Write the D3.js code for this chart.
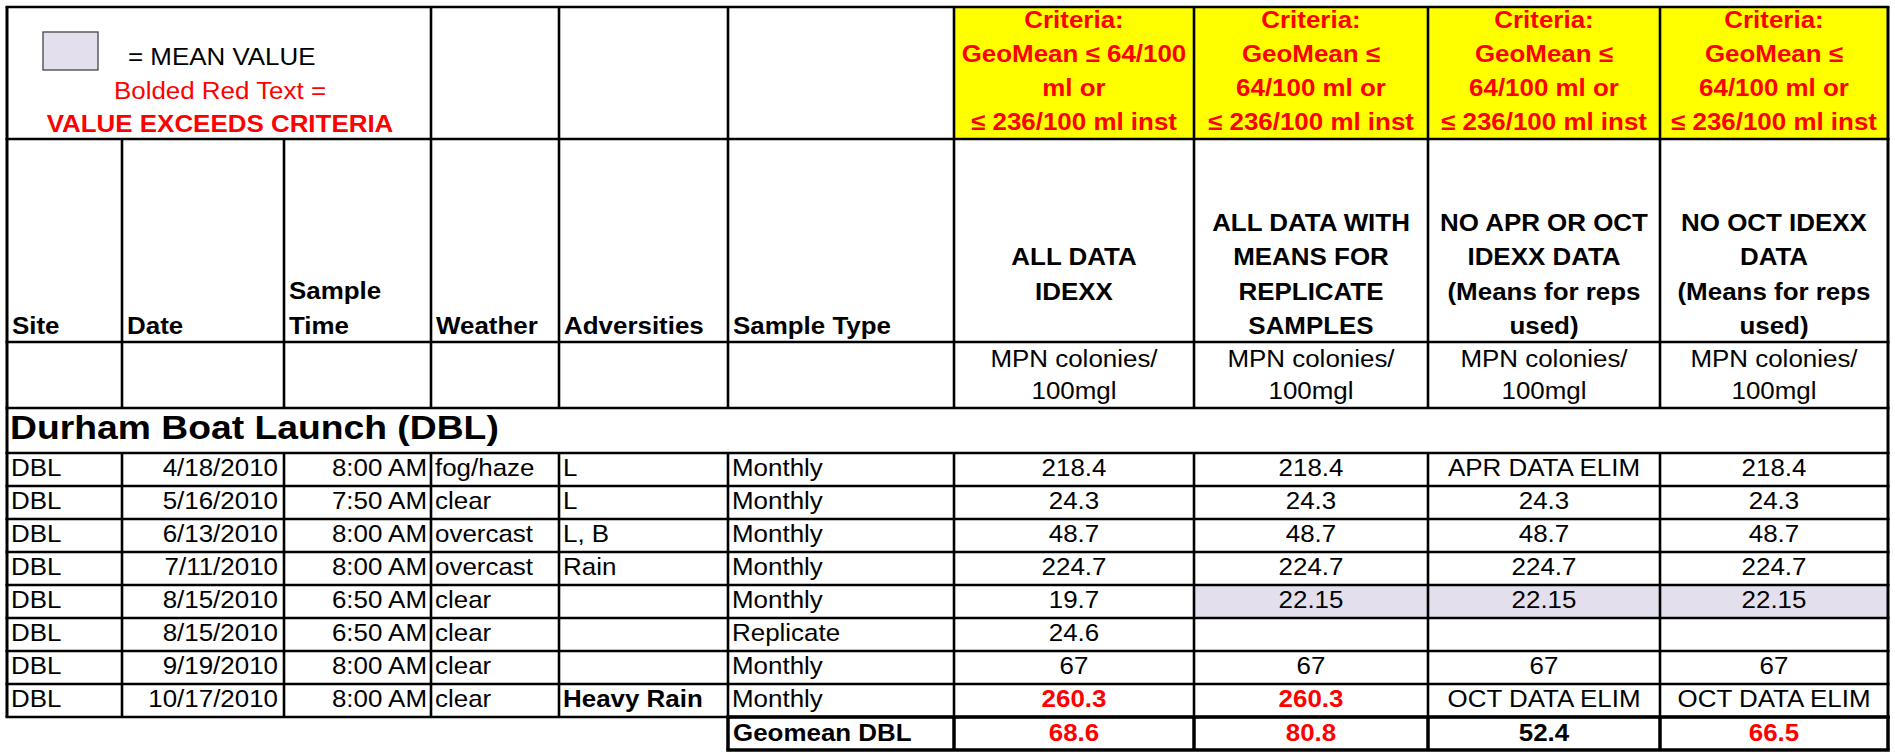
<!DOCTYPE html>
<html><head><meta charset="utf-8">
<script src="https://cdn.jsdelivr.net/npm/d3@7"></script>
<style>
body{margin:0;background:#fff;overflow:hidden}
svg{display:block}
text{font-family:"Liberation Sans",Arial,Helvetica,sans-serif}
</style>
</head><body>
<svg id="c" width="1895" height="753"></svg>
<script>
// ---------------- DATA ----------------
const sites = ["DBL","DBL","DBL","DBL","DBL","DBL","DBL","DBL"];
const dates = ["4/18/2010","5/16/2010","6/13/2010","7/11/2010","8/15/2010","8/15/2010","9/19/2010","10/17/2010"];
const times = ["8:00 AM","7:50 AM","8:00 AM","8:00 AM","6:50 AM","6:50 AM","8:00 AM","8:00 AM"];
const weather = ["fog/haze","clear","overcast","overcast","clear","clear","clear","clear"];
const adversities = ["L","L","L, B","Rain","","","","Heavy Rain"];
const boldAdversities = ["Heavy Rain"];
const sampleTypes = ["Monthly","Monthly","Monthly","Monthly","Monthly","Replicate","Monthly","Monthly"];
const allDataIdexx = [218.4,24.3,48.7,224.7,19.7,24.6,67,260.3];
const allDataMeans = [218.4,24.3,48.7,224.7,22.15,null,67,260.3];
const noAprOctData = ["APR DATA ELIM",24.3,48.7,224.7,22.15,null,67,"OCT DATA ELIM"];
const noOctData = [218.4,24.3,48.7,224.7,22.15,null,67,"OCT DATA ELIM"];
const meanRowFlags = [false,false,false,false,true,false,false,false];
const geomeanLabel = "Geomean DBL";
const geomeans = [68.6,80.8,52.4,66.5];
const geoMeanLimit = 64;
const instantLimit = 236;
const siteTitle = "Durham Boat Launch (DBL)";
const leftHeaders = [["Site"],["Date"],["Sample","Time"],["Weather"],["Adversities"],["Sample Type"]];
const valueHeaders = [["ALL DATA","IDEXX"],["ALL DATA WITH","MEANS FOR","REPLICATE","SAMPLES"],["NO APR OR OCT","IDEXX DATA","(Means for reps","used)"],["NO OCT IDEXX","DATA","(Means for reps","used)"]];
const criteriaLines = [["Criteria:","GeoMean ≤ 64/100","ml or","≤ 236/100 ml inst"],["Criteria:","GeoMean ≤","64/100 ml or","≤ 236/100 ml inst"],["Criteria:","GeoMean ≤","64/100 ml or","≤ 236/100 ml inst"],["Criteria:","GeoMean ≤","64/100 ml or","≤ 236/100 ml inst"]];
const unitLines = ["MPN colonies/","100mgl"];
const legendLines = ["= MEAN VALUE","Bolded Red Text =","VALUE EXCEEDS CRITERIA"];

// ---------------- LAYOUT ----------------
const F = 23.8, SX = 1.09;
const RED = "#ff0000", YELLOW = "#ffff00", LAV = "#e4dfec";
const colKeys = ["site","date","time","weather","adv","type","all","means","noAprOct","noOct"];
const colEdges = [7,122,284,431,559,728,954,1194,1428,1660,1888];
const xL = d3.scaleOrdinal(colKeys, colEdges.slice(0,-1));
const xR = d3.scaleOrdinal(colKeys, colEdges.slice(1));
const xC = k => (xL(k)+xR(k))/2;
const valueKeys = ["all","means","noAprOct","noOct"];
const yRow = d3.scaleBand().domain(d3.range(dates.length)).range([453,717]);
const Y = {top:7, h1:139, h2:342, unit:408, title:453, bottom:717, geo:750};

const svg = d3.select("#c");
const gFill = svg.append("g"), gText = svg.append("g"), gLine = svg.append("g");

function txt(x, y, s, o={}) {
  const sx = o.sx || SX;
  gText.append("text")
    .attr("transform", `translate(${x},${y}) scale(${sx},1)`)
    .attr("text-anchor", o.anchor || "start")
    .attr("font-size", o.size || F)
    .attr("font-weight", o.bold ? "bold" : "normal")
    .attr("fill", o.fill || "#000")
    .text(s);
}

// ---------- fills ----------
gFill.selectAll("rect.crit").data(valueKeys).join("rect")
  .attr("x", k=>xL(k)).attr("y", Y.top).attr("width", k=>xR(k)-xL(k)).attr("height", Y.h1-Y.top)
  .attr("fill", YELLOW);
const meanCells = [];
meanRowFlags.forEach((f,i)=>{ if(f) ["means","noAprOct","noOct"].forEach(k=>meanCells.push({i,k})); });
gFill.selectAll("rect.mean").data(meanCells).join("rect")
  .attr("x", d=>xL(d.k)).attr("y", d=>yRow(d.i)).attr("width", d=>xR(d.k)-xL(d.k)).attr("height", yRow.bandwidth())
  .attr("fill", LAV);
// legend swatch
gFill.append("rect").attr("x",43).attr("y",32).attr("width",55).attr("height",38)
  .attr("fill",LAV).attr("stroke","#444").attr("stroke-width",1.3);

// ---------- legend ----------
txt(128, 65, legendLines[0]);
txt(220, 98.5, legendLines[1], {anchor:"middle", fill:RED});
txt(220, 131.5, legendLines[2], {anchor:"middle", fill:RED, bold:true});

// ---------- criteria ----------
valueKeys.forEach((k,j)=>{
  criteriaLines[j].forEach((l,i)=> txt(xC(k), 27.5 + i*34.3, l, {anchor:"middle", bold:true, fill:RED}));
});

// ---------- headers ----------
colKeys.slice(0,6).forEach((k,j)=>{
  const lines = leftHeaders[j];
  lines.forEach((l,i)=> txt(xL(k)+5, 334 - (lines.length-1-i)*35, l, {bold:true}));
});
valueKeys.forEach((k,j)=>{
  const lines = valueHeaders[j];
  lines.forEach((l,i)=> txt(xC(k), 282.6 + (i-(lines.length-1)/2)*34.4, l, {anchor:"middle", bold:true}));
  unitLines.forEach((l,i)=> txt(xC(k), 367 + i*31.5, l, {anchor:"middle"}));
});

// ---------- title ----------
txt(10, 439, siteTitle, {bold:true, size:33, sx:1.13});

// ---------- data rows ----------
const rows = dates.map((d,i)=>({i, site:sites[i], date:d, time:times[i], weather:weather[i], adv:adversities[i], type:sampleTypes[i],
  all:allDataIdexx[i], means:allDataMeans[i], noAprOct:noAprOctData[i], noOct:noOctData[i]}));
rows.forEach(r=>{
  const yb = yRow(r.i) + 22.5;
  txt(xL("site")+4, yb, r.site);
  txt(xR("date")-6, yb, r.date, {anchor:"end"});
  txt(xR("time")-4, yb, r.time, {anchor:"end"});
  txt(xL("weather")+4, yb, r.weather);
  if (r.adv) txt(xL("adv")+4, yb, r.adv, {bold: boldAdversities.includes(r.adv)});
  txt(xL("type")+4, yb, r.type);
  valueKeys.forEach(k=>{
    const v = r[k];
    if (v === null || v === undefined) return;
    const exceeds = typeof v === "number" && v > instantLimit;
    txt(xC(k), yb, String(v), {anchor:"middle", bold:exceeds, fill: exceeds ? RED : "#000"});
  });
});

// ---------- geomean row ----------
txt(xL("type")+5, Y.bottom + 23.5, geomeanLabel, {bold:true});
valueKeys.forEach((k,j)=>{
  const v = geomeans[j];
  txt(xC(k), Y.bottom + 23.5, v.toFixed(1), {anchor:"middle", bold:true, fill: v > geoMeanLimit ? RED : "#000"});
});

// ---------- grid lines ----------
const segs = [];
const L = colEdges[0], R = colEdges[colEdges.length-1];
const W = 2.6;
[Y.top, Y.h1, Y.h2, Y.unit].forEach(y=>segs.push({x1:L-1.5,y1:y,x2:R+1.5,y2:y,w:W}));
d3.range(dates.length+1).forEach(i=>{ const y = Y.title + i*yRow.bandwidth(); segs.push({x1:L-1.5,y1:y,x2:R+1.5,y2:y,w:W}); });
segs.push({x1:L,y1:Y.top,x2:L,y2:Y.bottom,w:3});
segs.push({x1:R,y1:Y.top,x2:R,y2:Y.bottom,w:3});
colEdges.slice(1,-1).forEach((x,j)=>{
  const y0 = (j < 2) ? Y.h1 : Y.top;
  segs.push({x1:x,y1:y0,x2:x,y2:Y.unit,w:W});
  segs.push({x1:x,y1:Y.title,x2:x,y2:Y.bottom,w:W});
});
// geomean box
const gx0 = xL("type");
segs.push({x1:gx0-1.75,y1:Y.geo,x2:R+1.75,y2:Y.geo,w:3.5});
segs.push({x1:gx0-1.75,y1:Y.bottom,x2:R+1.75,y2:Y.bottom,w:3.5});
[gx0, ...valueKeys.map(k=>xL(k)), R].forEach(x=>segs.push({x1:x,y1:Y.bottom,x2:x,y2:Y.geo,w:3.5}));

gLine.selectAll("line").data(segs).join("line")
  .attr("x1",d=>d.x1).attr("y1",d=>d.y1).attr("x2",d=>d.x2).attr("y2",d=>d.y2)
  .attr("stroke","#000").attr("stroke-width",d=>d.w);
</script>
</body></html>
